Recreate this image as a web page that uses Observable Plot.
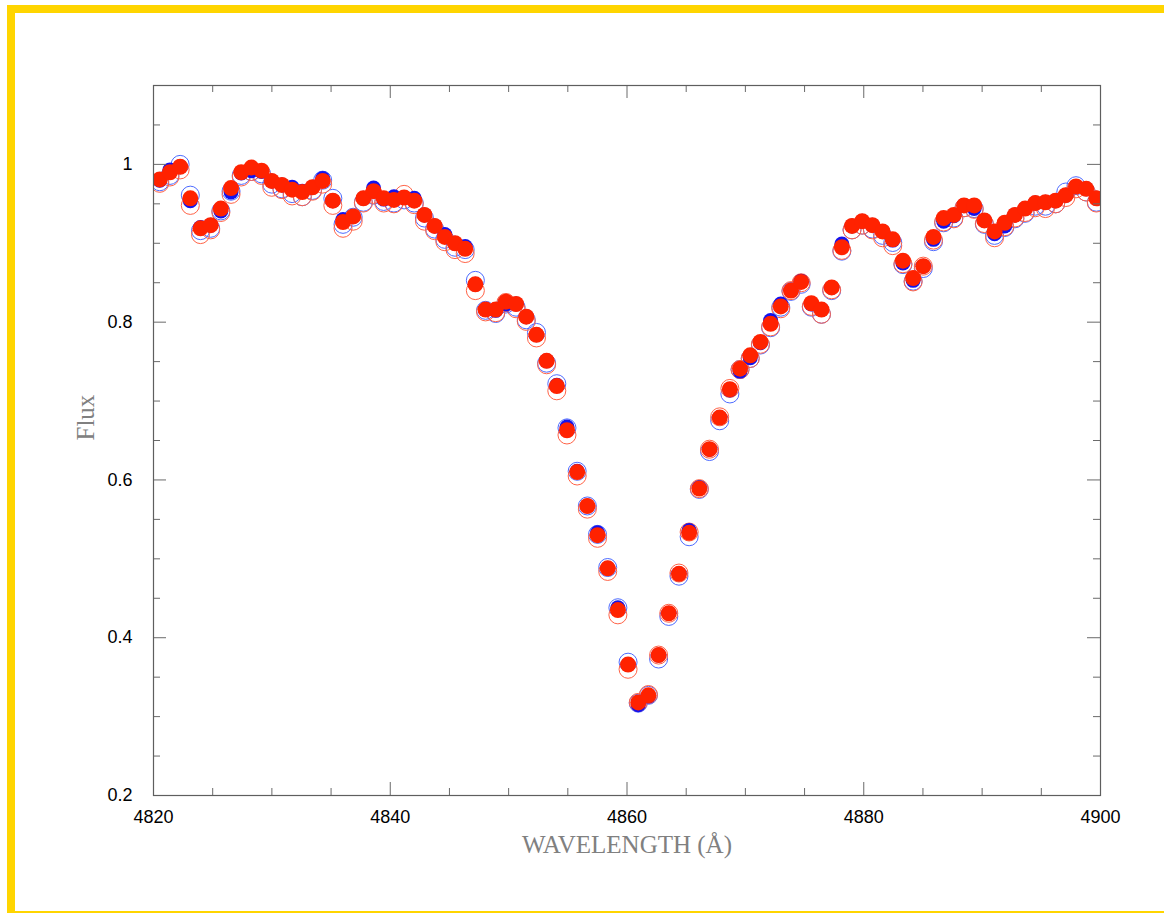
<!DOCTYPE html>
<html>
<head>
<meta charset="utf-8">
<script src="https://cdn.jsdelivr.net/npm/d3@7"></script>
<script src="https://cdn.jsdelivr.net/npm/@observablehq/plot@0.6"></script>
<style>
  html, body { margin: 0; padding: 0; background: #fff; width: 1164px; height: 913px; overflow: hidden; }
  #page { position: relative; width: 1164px; height: 913px; overflow: hidden; }
  #border { position: absolute; left: 7px; top: 5px; width: 1200px; height: 898px; border: 8px solid #ffd500; }
  #chart { position: absolute; left: 0; top: 0; }
</style>
</head>
<body>
<div id="page">
  <div id="border"></div>
  <div id="chart"></div>
</div>
<script>
// Wavelength grid (Å) of the spectrum around H-beta
const wavelength = [
  4820.53, 4821.39, 4822.25, 4823.11, 4823.97, 4824.83, 4825.69, 4826.55, 4827.41, 4828.27,
  4829.13, 4829.99, 4830.85, 4831.71, 4832.57, 4833.43, 4834.29, 4835.15, 4836.01, 4836.87,
  4837.73, 4838.59, 4839.45, 4840.31, 4841.17, 4842.03, 4842.89, 4843.75, 4844.61, 4845.47,
  4846.33, 4847.19, 4848.05, 4848.91, 4849.77, 4850.63, 4851.49, 4852.35, 4853.21, 4854.07,
  4854.93, 4855.79, 4856.65, 4857.51, 4858.37, 4859.23, 4860.09, 4860.95, 4861.81, 4862.67,
  4863.53, 4864.39, 4865.25, 4866.11, 4866.97, 4867.83, 4868.69, 4869.55, 4870.41, 4871.27,
  4872.13, 4872.99, 4873.85, 4874.71, 4875.57, 4876.43, 4877.29, 4878.15, 4879.01, 4879.87,
  4880.73, 4881.59, 4882.45, 4883.31, 4884.17, 4885.03, 4885.89, 4886.75, 4887.61, 4888.47,
  4889.33, 4890.19, 4891.05, 4891.91, 4892.77, 4893.63, 4894.49, 4895.35, 4896.21, 4897.07,
  4897.93, 4898.79, 4899.65
];

// Normalised flux, red filled series
const fluxRedFill = [
  0.981, 0.990, 0.997, 0.957, 0.919, 0.923, 0.944, 0.970, 0.990, 0.996,
  0.992, 0.979, 0.974, 0.968, 0.965, 0.971, 0.979, 0.954, 0.927, 0.934,
  0.957, 0.966, 0.957, 0.955, 0.958, 0.954, 0.936, 0.922, 0.908, 0.900,
  0.893, 0.848, 0.816, 0.816, 0.826, 0.823, 0.807, 0.784, 0.751, 0.719,
  0.663, 0.610, 0.567, 0.530, 0.488, 0.435, 0.366, 0.318, 0.327, 0.378,
  0.431, 0.481, 0.533, 0.589, 0.639, 0.679, 0.715, 0.741, 0.758, 0.775,
  0.798, 0.820, 0.840, 0.851, 0.824, 0.816, 0.844, 0.895, 0.922, 0.928,
  0.923, 0.915, 0.905, 0.878, 0.856, 0.871, 0.908, 0.932, 0.936, 0.948,
  0.948, 0.929, 0.915, 0.926, 0.936, 0.944, 0.951, 0.952, 0.954, 0.961,
  0.972, 0.969, 0.957
];

// Blue filled series
const fluxBlueFill = [
  0.980, 0.993, 0.997, 0.954, 0.920, 0.923, 0.941, 0.965, 0.989, 0.992,
  0.991, 0.979, 0.974, 0.971, 0.966, 0.971, 0.982, 0.954, 0.930, 0.934,
  0.957, 0.970, 0.956, 0.959, 0.958, 0.957, 0.936, 0.922, 0.911, 0.900,
  0.896, 0.848, 0.816, 0.815, 0.823, 0.823, 0.807, 0.784, 0.751, 0.720,
  0.667, 0.611, 0.567, 0.533, 0.488, 0.438, 0.366, 0.315, 0.326, 0.378,
  0.431, 0.481, 0.536, 0.590, 0.639, 0.679, 0.714, 0.738, 0.755, 0.774,
  0.802, 0.823, 0.840, 0.852, 0.823, 0.816, 0.844, 0.899, 0.922, 0.928,
  0.923, 0.915, 0.904, 0.875, 0.853, 0.871, 0.905, 0.928, 0.935, 0.948,
  0.944, 0.929, 0.912, 0.922, 0.936, 0.944, 0.951, 0.952, 0.954, 0.961,
  0.972, 0.969, 0.957
];

// Blue open-circle series
const fluxBlueOpen = [
  0.978, 0.986, 1.000, 0.961, 0.916, 0.919, 0.941, 0.966, 0.986, 0.991,
  0.988, 0.975, 0.969, 0.963, 0.959, 0.967, 0.980, 0.957, 0.924, 0.933,
  0.952, 0.961, 0.953, 0.951, 0.955, 0.951, 0.932, 0.918, 0.905, 0.895,
  0.892, 0.853, 0.815, 0.811, 0.823, 0.819, 0.803, 0.787, 0.748, 0.722,
  0.666, 0.611, 0.567, 0.531, 0.489, 0.438, 0.369, 0.317, 0.327, 0.373,
  0.427, 0.478, 0.528, 0.588, 0.636, 0.675, 0.709, 0.740, 0.754, 0.771,
  0.793, 0.819, 0.839, 0.848, 0.819, 0.810, 0.840, 0.890, 0.917, 0.923,
  0.918, 0.910, 0.901, 0.873, 0.852, 0.868, 0.902, 0.926, 0.932, 0.945,
  0.944, 0.924, 0.910, 0.920, 0.931, 0.938, 0.947, 0.947, 0.950, 0.965,
  0.973, 0.965, 0.952
];

// Red open-circle series
const fluxRedOpen = [
  0.976, 0.984, 0.993, 0.948, 0.911, 0.917, 0.939, 0.962, 0.984, 0.991,
  0.986, 0.971, 0.968, 0.960, 0.959, 0.966, 0.975, 0.948, 0.919, 0.928,
  0.951, 0.962, 0.951, 0.950, 0.962, 0.949, 0.928, 0.916, 0.902, 0.892,
  0.887, 0.840, 0.813, 0.812, 0.825, 0.817, 0.801, 0.780, 0.746, 0.713,
  0.657, 0.605, 0.563, 0.526, 0.484, 0.429, 0.360, 0.318, 0.328, 0.378,
  0.431, 0.482, 0.534, 0.589, 0.639, 0.680, 0.716, 0.740, 0.754, 0.772,
  0.794, 0.817, 0.840, 0.850, 0.820, 0.810, 0.841, 0.891, 0.917, 0.923,
  0.917, 0.907, 0.897, 0.874, 0.851, 0.871, 0.904, 0.927, 0.931, 0.945,
  0.943, 0.925, 0.907, 0.921, 0.932, 0.939, 0.945, 0.944, 0.950, 0.958,
  0.969, 0.965, 0.951
];

// Axis ticks
const xMajorTicks = [4820, 4840, 4860, 4880, 4900];
const xMinorTicks = [4825, 4830, 4835, 4845, 4850, 4855, 4865, 4870, 4875, 4885, 4890, 4895];
const yMajorTicks = [0.2, 0.4, 0.6, 0.8, 1];
const yMinorTicks = [0.25, 0.3, 0.35, 0.45, 0.5, 0.55, 0.65, 0.7, 0.75, 0.85, 0.9, 0.95, 1.05];

const xTitle = "WAVELENGTH (Å)";
const yTitle = "Flux";

// Layout
const W = 1164, H = 913;
const mLeft = 153, mRight = 64, mTop = 85, mBottom = 118;
const frameW = W - mLeft - mRight;
const frameH = H - mTop - mBottom;
const majorLen = 13, minorLen = 7;
const tickColor = "#6a6a6a";

const rows = wavelength.map((w, i) => ({
  w,
  redFill: fluxRedFill[i],
  blueFill: fluxBlueFill[i],
  blueOpen: fluxBlueOpen[i],
  redOpen: fluxRedOpen[i]
}));

const chart = Plot.plot({
  width: W,
  height: H,
  marginLeft: mLeft,
  marginRight: mRight,
  marginTop: mTop,
  marginBottom: mBottom,
  style: { background: "transparent", fontFamily: "'Liberation Sans', Arial, sans-serif" },
  x: { domain: [4820, 4900], label: null },
  y: { domain: [0.2, 1.1], label: null },
  marks: [
    // spectra
    Plot.dot(rows, { x: "w", y: "blueOpen", r: 9, stroke: "#4d6bff", strokeWidth: 1, fill: "none", clip: true }),
    Plot.dot(rows, { x: "w", y: "redOpen", r: 9, stroke: "#ff6347", strokeWidth: 1, fill: "none", clip: true }),
    Plot.dot(rows, { x: "w", y: "blueFill", r: 7.5, fill: "#1212ee", stroke: "none", clip: true }),
    Plot.dot(rows, { x: "w", y: "redFill", r: 8, fill: "#ff2200", stroke: "none", clip: true }),

    // inward ticks: bottom
    Plot.tickX(xMajorTicks, { x: d => d, insetTop: frameH - majorLen, stroke: tickColor }),
    Plot.tickX(xMinorTicks, { x: d => d, insetTop: frameH - minorLen, stroke: tickColor }),
    // top
    Plot.tickX(xMajorTicks, { x: d => d, insetBottom: frameH - majorLen, stroke: tickColor }),
    Plot.tickX(xMinorTicks, { x: d => d, insetBottom: frameH - minorLen, stroke: tickColor }),
    // left
    Plot.tickY(yMajorTicks, { y: d => d, insetRight: frameW - majorLen, stroke: tickColor }),
    Plot.tickY(yMinorTicks, { y: d => d, insetRight: frameW - minorLen, stroke: tickColor }),
    // right
    Plot.tickY(yMajorTicks, { y: d => d, insetLeft: frameW - majorLen, stroke: tickColor }),
    Plot.tickY(yMinorTicks, { y: d => d, insetLeft: frameW - minorLen, stroke: tickColor }),

    Plot.frame({ stroke: "#5e5e5e", strokeWidth: 1.2 }),

    // tick labels
    Plot.axisX({ ticks: xMajorTicks, tickSize: 0, tickPadding: 15, fontSize: 18, fill: "#000", tickFormat: d => String(d), label: null }),
    Plot.axisY({ ticks: yMajorTicks, tickSize: 0, tickPadding: 21, fontSize: 18, fill: "#000", tickFormat: d => String(d), label: null }),

    // axis titles
    Plot.text([xTitle], { frameAnchor: "bottom", dy: 57, text: d => d, fontSize: 25,
      fontFamily: "'Liberation Serif', 'DejaVu Serif', serif", fill: "#808080" }),
    Plot.text([yTitle], { frameAnchor: "left", dx: -68, rotate: -90, text: d => d, fontSize: 25,
      fontFamily: "'Liberation Serif', 'DejaVu Serif', serif", fill: "#808080" })
  ]
});

document.getElementById("chart").appendChild(chart);
</script>
</body>
</html>
